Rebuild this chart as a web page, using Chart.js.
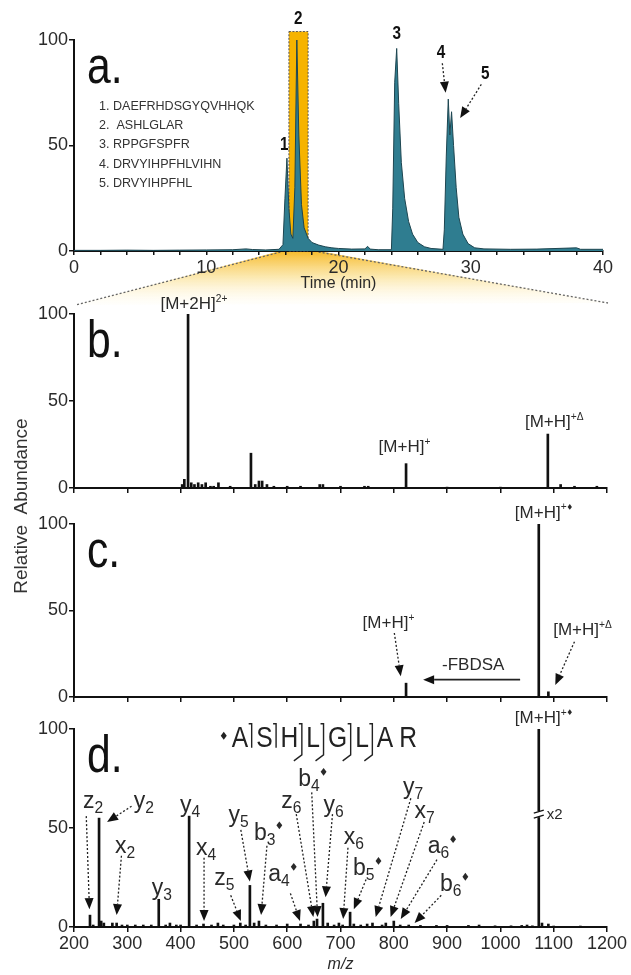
<!DOCTYPE html>
<html>
<head>
<meta charset="utf-8">
<script src="https://cdn.jsdelivr.net/npm/chart.js@4.4.1/dist/chart.umd.min.js"></script>
<style>
  body { margin: 0; background: #fff; }
  #fig { position: relative; width: 631px; height: 975px; }
  #fig canvas { position: absolute; left: 0; top: 0; }
</style>
</head>
<body>
<div id="fig">
  <canvas id="chartA" width="631" height="975"></canvas>
  <canvas id="chartB" width="631" height="975"></canvas>
  <canvas id="chartC" width="631" height="975"></canvas>
  <canvas id="chartD" width="631" height="975"></canvas>
</div>
<script>
// ---- data ----
const chromTime = [0,2,4,6,8,10,12,13,13.5,14.5,15.5,15.8,15.95,16.1,16.25,16.4,16.55,16.7,16.85,17.0,17.2,17.4,17.7,18.0,18.5,19,19.5,20,21,22,22.2,22.4,23,24.0,24.1,24.25,24.4,24.55,24.75,25,25.3,25.6,26,26.5,27,27.9,28.0,28.15,28.3,28.42,28.55,28.7,28.9,29.1,29.4,29.8,30.3,31,33,35,38,38.3,40];
const chromInt  = [0.3,0.3,0.4,0.3,0.4,0.5,0.6,1.0,0.7,0.5,0.8,3,25,44,20,8,6,30,100,55,22,11,6,4,2.8,2,1.5,1.2,0.9,1.0,2.2,0.9,0.6,0.6,20,80,96,70,42,25,14,8,4,2,1.2,0.8,10,45,72,55,66,50,30,16,8,3.5,1.5,1,0.8,0.9,1.5,0.8,0.8];
const peptides = ['1. DAEFRHDSGYQVHHQK', '2.  ASHLGLAR', '3. RPPGFSPFR', '4. DRVYIHPFHLVIHN', '5. DRVYIHPFHL'];
const zoomWindow = [16.25, 17.7];

const bMz  = [403,407,414,420,426,433,440,447,456,462,471,493,532,540,547,553,562,575,600,625,661,667,700,745,752,823,900,1000,1089,1113,1139,1181];
const bInt = [2,5,100,3,2,3,2,3,1,1,3,1,20,2,4,4,2,1,1,1,2,2,1,1,1,14,0.5,0.5,31,2,1,1];

const cMz  = [823,1072,1090];
const cInt = [8,100,3];

const dMz  = [230,236,247,251,256,272,280,290,300,315,330,345,359,372,380,392,400,416,430,443,458,470,480,500,512,522,530,538,547,560,580,600,625,640,650,656,667,676,688,697,704,718,725,738,750,760,778,785,800,812,828,850,880,900,940,960,990,1020,1040,1050,1060,1072,1078,1090,1100,1150];
const dInt = [6,1,55,3,2,2,2,1,1,1,1,1,14,1,2,1,1,56,1,1.5,1,2,1,1,2,1,21,2,3,1,1,1.5,1.5,1,3,4,12,2,1,2,1,7.5,1.5,1,1.5,2,1,2,3,1,1,0.8,0.8,0.8,0.8,1,0.6,0.6,0.8,1,0.6,100,2,1.5,0.5,0.5];

const timeTicks = [0,10,20,30,40];
const timeMarks = [0,2,4,6,8,10,12,14,16,18,20,22,24,26,28,30,32,34,36,38,40];
const mzTicks = [200,300,400,500,600,700,800,900,1000,1100,1200];
const abundTicks = [0,50,100];
const sequence = ['A','S','H','L','G','L','A','R'];

// annotations (label centre, optional dotted arrow start -> tip), data units
const aNotes = [
  { main: '1', x: 15.9, y: 50 },
  { main: '2', x: 16.95, y: 110 },
  { main: '3', x: 24.4, y: 103 },
  { main: '4', x: 27.75, y: 94, from: [27.85, 89], to: [28.1, 75] },
  { main: '5', x: 31.1, y: 84, from: [30.8, 79], to: [29.2, 63] }
];
const bNotes = [
  { main: '[M+2H]', sup: '2+', x: 425, y: 106 },
  { main: '[M+H]', sup: '+', x: 820, y: 24 },
  { main: '[M+H]', sup: '+\u0394', x: 1101, y: 38 }
];
const cNotes = [
  { main: '[M+H]', sup: '+', dia: true, x: 1082, y: 107 },
  { main: '[M+H]', sup: '+', x: 790, y: 43, from: [801, 37], to: [813, 12] },
  { main: '[M+H]', sup: '+\u0394', x: 1154, y: 39, from: [1139, 32], to: [1103, 7] },
  { main: '-FBDSA', x: 949, y: 19 }
];
const dNotes = [
  { main: 'z', sub: '2', x: 236, y: 64, from: [223, 56], to: [229, 9] },
  { main: 'y', sub: '2', x: 331, y: 64, from: [308, 61], to: [262, 53] },
  { main: 'x', sub: '2', x: 296, y: 41, from: [289, 36], to: [280, 6] },
  { main: 'y', sub: '3', x: 365, y: 20 },
  { main: 'y', sub: '4', x: 418, y: 62 },
  { main: 'x', sub: '4', x: 448, y: 40, from: [444, 35], to: [444, 3] },
  { main: 'z', sub: '5', x: 482, y: 25, from: [494, 16], to: [513, 3] },
  { main: 'y', sub: '5', x: 509, y: 57, from: [513, 49], to: [530, 23] },
  { main: 'b', sub: '3', dia: true, x: 566, y: 48, from: [562, 41], to: [551, 6] },
  { main: 'a', sub: '4', dia: true, x: 593, y: 27, from: [606, 17], to: [624, 3] },
  { main: 'z', sub: '6', x: 608, y: 64, from: [617, 57], to: [649, 5] },
  { main: 'b', sub: '4', dia: true, x: 649, y: 75, from: [646, 68], to: [657, 5] },
  { main: 'y', sub: '6', x: 687, y: 62, from: [685, 57], to: [672, 15] },
  { main: 'x', sub: '6', x: 725, y: 46, from: [714, 40], to: [705, 4] },
  { main: 'b', sub: '5', dia: true, x: 752, y: 30, from: [748, 24], to: [725, 9] },
  { main: 'y', sub: '7', x: 836, y: 71, from: [832, 65], to: [766, 5] },
  { main: 'x', sub: '7', x: 858, y: 59, from: [857, 53], to: [794, 5] },
  { main: 'a', sub: '6', dia: true, x: 892, y: 41, from: [881, 34], to: [813, 4] },
  { main: 'b', sub: '6', dia: true, x: 915, y: 22, from: [889, 16], to: [839, 2] },
  { main: '[M+H]', sup: '+', dia: true, x: 1082, y: 106, size: 17 }
];

// ---- styling ----
const SANS = '"Liberation Sans", Arial, sans-serif';
const INK = '#111';
const TXT = '#2a2a2a';
const TEAL = '#2f7d90';

function diamond(ctx, cx, cy, r) {
  ctx.beginPath();
  ctx.moveTo(cx, cy - r);
  ctx.lineTo(cx + r * 0.75, cy);
  ctx.lineTo(cx, cy + r);
  ctx.lineTo(cx - r * 0.75, cy);
  ctx.closePath();
  ctx.fill();
}

function rich(ctx, note, cx, cy, size) {
  const subS = size * 0.68, supS = size * 0.6;
  ctx.font = size + 'px ' + SANS;
  const w1 = ctx.measureText(note.main).width;
  ctx.font = subS + 'px ' + SANS;
  const w2 = note.sub ? ctx.measureText(note.sub).width : 0;
  ctx.font = supS + 'px ' + SANS;
  const w3 = note.sup ? ctx.measureText(note.sup).width : 0;
  const dr = size * 0.17;
  const w4 = note.dia ? dr * 2 + 1 : 0;
  let x = cx - (w1 + w2 + w3 + w4) / 2;
  const base = cy + size * 0.33;
  ctx.save();
  ctx.fillStyle = TXT;
  ctx.textAlign = 'left';
  ctx.textBaseline = 'alphabetic';
  ctx.font = size + 'px ' + SANS;
  ctx.fillText(note.main, x, base);
  x += w1;
  if (note.sub) {
    ctx.font = subS + 'px ' + SANS;
    ctx.fillText(note.sub, x, base + size * 0.22);
    x += w2;
  }
  if (note.sup) {
    ctx.font = supS + 'px ' + SANS;
    ctx.fillText(note.sup, x, base - size * 0.42);
    x += w3;
  }
  if (note.dia) {
    diamond(ctx, x + dr * 0.75 + 1, base - size * 0.62, dr);
  }
  ctx.restore();
}

function arrow(ctx, x1, y1, x2, y2, dotted) {
  const ang = Math.atan2(y2 - y1, x2 - x1);
  const hl = 11, hw = 4.5;
  const bx = x2 - hl * Math.cos(ang), by = y2 - hl * Math.sin(ang);
  ctx.save();
  ctx.strokeStyle = '#222';
  ctx.fillStyle = '#111';
  ctx.lineWidth = dotted ? 1.3 : 1.8;
  ctx.setLineDash(dotted ? [2, 2] : []);
  ctx.beginPath();
  ctx.moveTo(x1, y1);
  ctx.lineTo(bx, by);
  ctx.stroke();
  ctx.setLineDash([]);
  ctx.beginPath();
  ctx.moveTo(x2, y2);
  ctx.lineTo(bx + hw * Math.sin(ang), by - hw * Math.cos(ang));
  ctx.lineTo(bx - hw * Math.sin(ang), by + hw * Math.cos(ang));
  ctx.closePath();
  ctx.fill();
  ctx.restore();
}

function panelLetter(ctx, ca, letter) {
  ctx.save();
  ctx.fillStyle = INK;
  ctx.font = '52px ' + SANS;
  ctx.textBaseline = 'alphabetic';
  ctx.translate(ca.left + 13, ca.top + 43);
  ctx.scale(0.82, 1);
  ctx.fillText(letter, 0, 0);
  ctx.restore();
}

function drawNotes(chart, notes, size) {
  const { ctx, scales: { x, y } } = chart;
  notes.forEach(n => {
    rich(ctx, n, x.getPixelForValue(n.x), y.getPixelForValue(n.y), n.size || size);
    if (n.from) {
      arrow(ctx, x.getPixelForValue(n.from[0]), y.getPixelForValue(n.from[1]),
        x.getPixelForValue(n.to[0]), y.getPixelForValue(n.to[1]), true);
    }
  });
}

function yAxis() {
  return {
    type: 'linear', min: 0, max: 100,
    afterFit: s => { s.width = 74; },
    afterBuildTicks: s => { s.ticks = abundTicks.map(v => ({ value: v })); },
    border: { color: INK, width: 2 },
    grid: { drawOnChartArea: false, tickLength: 5, color: INK, lineWidth: 1.5 },
    ticks: { font: { family: SANS, size: 18 }, color: TXT, padding: 1, callback: v => String(v) }
  };
}

function mzAxis(labels) {
  return {
    type: 'linear', min: 200, max: 1200, offset: false,
    afterFit: s => { s.height = labels ? 48 : 6; },
    afterBuildTicks: s => { s.ticks = mzTicks.map(v => ({ value: v })); },
    border: { color: INK, width: 2 },
    grid: { drawOnChartArea: false, offset: false, tickLength: 5, color: INK, lineWidth: 1.5 },
    ticks: {
      display: labels, autoSkip: false, maxRotation: 0, padding: 1,
      font: { family: SANS, size: 18 }, color: TXT,
      callback: v => String(v)
    },
    title: { display: labels, text: 'm/z', color: TXT, font: { family: SANS, size: 16, style: 'italic' }, padding: { top: 0, bottom: 1 } }
  };
}

function baseOptions(top, bottom, right, xAxis) {
  return {
    responsive: false,
    animation: false,
    events: [],
    layout: { padding: { top: top, bottom: bottom, left: 0, right: right } },
    plugins: { legend: { display: false }, tooltip: { enabled: false } },
    scales: { x: xAxis, y: yAxis() }
  };
}

function sticks(mz, ints) {
  return {
    type: 'bar',
    data: mz.map((m, i) => ({ x: m, y: ints[i] })),
    backgroundColor: INK,
    barThickness: 2,
    borderWidth: 0
  };
}

// ---- a. chromatogram ----
const panelA = {
  id: 'panelA',
  beforeDraw(chart) {
    const { ctx, chartArea: ca, scales: { x } } = chart;
    const t1 = x.getPixelForValue(zoomWindow[0] - 0.65), t2 = x.getPixelForValue(zoomWindow[1] + 0.8);
    const yb = ca.bottom + 54;
    ctx.save();
    const g = ctx.createLinearGradient(0, ca.bottom, 0, yb);
    g.addColorStop(0, 'rgba(246,182,30,0.95)');
    g.addColorStop(0.45, 'rgba(250,222,140,0.75)');
    g.addColorStop(1, 'rgba(255,252,240,0.2)');
    ctx.beginPath();
    ctx.moveTo(t1, ca.bottom);
    ctx.lineTo(t2, ca.bottom);
    ctx.lineTo(ca.right + 5, yb - 2);
    ctx.lineTo(ca.left + 2, yb);
    ctx.closePath();
    ctx.fillStyle = g;
    ctx.fill();
    ctx.strokeStyle = '#666';
    ctx.lineWidth = 1.3;
    ctx.setLineDash([2, 2]);
    ctx.beginPath();
    ctx.moveTo(t1, ca.bottom + 1);
    ctx.lineTo(ca.left + 2, yb);
    ctx.moveTo(t2, ca.bottom + 1);
    ctx.lineTo(ca.right + 5, yb - 2);
    ctx.stroke();
    ctx.restore();
  },
  beforeDatasetsDraw(chart) {
    const { ctx, scales: { x, y } } = chart;
    const l = x.getPixelForValue(zoomWindow[0]), r = x.getPixelForValue(zoomWindow[1]);
    const t = y.getPixelForValue(104), b = y.getPixelForValue(0);
    ctx.save();
    ctx.fillStyle = '#f6b300';
    ctx.fillRect(l, t, r - l, b - t);
    ctx.strokeStyle = '#555';
    ctx.lineWidth = 1;
    ctx.setLineDash([2, 1.5]);
    ctx.strokeRect(l, t, r - l, b - t);
    ctx.restore();
  },
  afterDatasetsDraw(chart) {
    const { ctx, chartArea: ca, scales: { x, y } } = chart;
    panelLetter(ctx, ca, 'a.');
    ctx.save();
    ctx.fillStyle = '#333';
    ctx.font = '13.5px ' + SANS;
    ctx.textBaseline = 'middle';
    peptides.forEach((p, i) => {
      ctx.save();
      ctx.translate(ca.left + 25, ca.top + 66 + i * 19.3);
      ctx.scale(0.93, 1);
      ctx.fillText(p, 0, 0);
      ctx.restore();
    });
    ctx.restore();
    aNotes.forEach(n => {
      ctx.save();
      ctx.fillStyle = INK;
      ctx.font = 'bold 18px ' + SANS;
      ctx.textAlign = 'center';
      ctx.textBaseline = 'middle';
      ctx.translate(x.getPixelForValue(n.x), y.getPixelForValue(n.y));
      ctx.scale(0.85, 1);
      ctx.fillText(n.main, 0, 0);
      ctx.restore();
      if (n.from) {
        arrow(ctx, x.getPixelForValue(n.from[0]), y.getPixelForValue(n.from[1]),
          x.getPixelForValue(n.to[0]), y.getPixelForValue(n.to[1]), true);
      }
    });
  }
};

new Chart(document.getElementById('chartA'), {
  type: 'line',
  data: {
    datasets: [{
      data: chromTime.map((t, i) => ({ x: t, y: chromInt[i] })),
      borderColor: '#1d4550',
      borderWidth: 1,
      backgroundColor: TEAL,
      fill: 'origin',
      pointRadius: 0,
      tension: 0
    }]
  },
  options: baseOptions(40, 682, 28, {
    type: 'linear', min: 0, max: 40,
    afterFit: s => { s.height = 42; },
    afterBuildTicks: s => { s.ticks = timeMarks.map(v => ({ value: v })); },
    border: { color: INK, width: 2 },
    grid: { drawOnChartArea: false, tickLength: 4, color: INK, lineWidth: 1.5 },
    ticks: {
      autoSkip: false, maxRotation: 0, padding: 2,
      font: { family: SANS, size: 18 }, color: TXT,
      callback: v => timeTicks.includes(v) ? String(v) : ''
    },
    title: { display: true, text: 'Time (min)', color: TXT, font: { family: SANS, size: 16 }, padding: { top: 0, bottom: 0 } }
  }),
  plugins: [panelA]
});

// ---- b. ----
new Chart(document.getElementById('chartB'), {
  type: 'bar',
  data: { datasets: [sticks(bMz, bInt)] },
  options: baseOptions(314, 481, 24, mzAxis(false)),
  plugins: [{
    id: 'panelB',
    afterDatasetsDraw(chart) {
      panelLetter(chart.ctx, chart.chartArea, 'b.');
      drawNotes(chart, bNotes, 17);
    }
  }]
});

// ---- c. ----
new Chart(document.getElementById('chartC'), {
  type: 'bar',
  data: { datasets: [sticks(cMz, cInt)] },
  options: baseOptions(524, 272, 24, mzAxis(false)),
  plugins: [{
    id: 'panelC',
    afterDatasetsDraw(chart) {
      const { ctx, scales: { x, y } } = chart;
      panelLetter(ctx, chart.chartArea, 'c.');
      drawNotes(chart, cNotes, 17);
      arrow(ctx, x.getPixelForValue(1037), y.getPixelForValue(10), x.getPixelForValue(855), y.getPixelForValue(10), false);
      ctx.save();
      ctx.translate(22, 506);
      ctx.rotate(-Math.PI / 2);
      ctx.fillStyle = '#333';
      ctx.font = '19px ' + SANS;
      ctx.textAlign = 'center';
      ctx.textBaseline = 'middle';
      ctx.fillText('Relative  Abundance', 0, 0);
      ctx.restore();
    }
  }]
});

// ---- d. ----
new Chart(document.getElementById('chartD'), {
  type: 'bar',
  data: { datasets: [sticks(dMz, dInt)] },
  options: baseOptions(729, 0, 24, mzAxis(true)),
  plugins: [{
    id: 'panelD',
    afterDatasetsDraw(chart) {
      const { ctx, scales: { x, y } } = chart;
      panelLetter(ctx, chart.chartArea, 'd.');
      drawNotes(chart, dNotes, 23);

      // axis break on the precursor peak
      const px = x.getPixelForValue(1072), py = y.getPixelForValue(57);
      ctx.save();
      ctx.fillStyle = '#fff';
      ctx.fillRect(px - 3, py - 3, 6, 6);
      ctx.strokeStyle = INK;
      ctx.lineWidth = 1.2;
      ctx.beginPath();
      ctx.moveTo(px - 5, py - 1); ctx.lineTo(px + 5, py - 4);
      ctx.moveTo(px - 5, py + 4); ctx.lineTo(px + 5, py + 1);
      ctx.stroke();
      ctx.fillStyle = TXT;
      ctx.font = '15px ' + SANS;
      ctx.textBaseline = 'middle';
      ctx.fillText('x2', px + 8, py + 1);
      ctx.restore();

      // sequence with fragmentation marks
      ctx.save();
      const base = y.getPixelForValue(91);
      let sx = x.getPixelForValue(481);
      ctx.fillStyle = '#222';
      ctx.strokeStyle = '#222';
      ctx.lineWidth = 1.4;
      diamond(ctx, sx, base - 11, 4);
      sx += 8;
      ctx.textAlign = 'left';
      ctx.textBaseline = 'alphabetic';
      ctx.font = '30px ' + SANS;
      sequence.forEach((r, i) => {
        ctx.save();
        ctx.translate(sx, base);
        ctx.scale(0.82, 1);
        ctx.fillText(r, 0, 0);
        ctx.restore();
        sx += ctx.measureText(r).width * 0.82;
        if (i < 6) {
          const lx = sx + 3.5;
          ctx.beginPath();
          ctx.moveTo(lx - 3, base - 23);
          ctx.lineTo(lx, base - 23);
          if (i >= 2) {
            ctx.lineTo(lx, base + 8);
            ctx.lineTo(lx - 8, base + 14);
          } else {
            ctx.lineTo(lx, base + 1);
          }
          ctx.stroke();
          sx += 8;
        } else if (i === 6) {
          sx += 6;
        }
      });
      ctx.restore();
    }
  }]
});
</script>
</body>
</html>
